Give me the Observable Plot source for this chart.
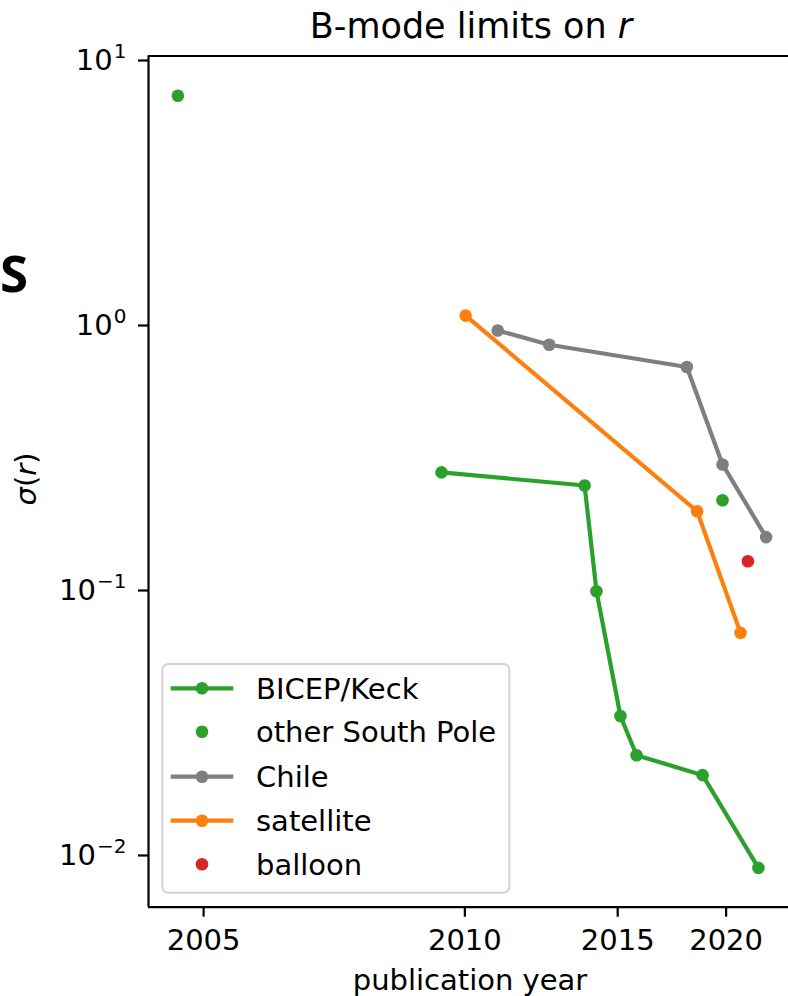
<!DOCTYPE html>
<html><head><meta charset="utf-8">
<script src="https://cdn.jsdelivr.net/npm/d3@7"></script>
<script src="https://cdn.jsdelivr.net/npm/@observablehq/plot@0.6"></script>
<style>
html,body{margin:0;padding:0;background:#fff;overflow:hidden}
#wrap{position:relative;width:788px;height:996px}
</style></head><body><div id="wrap"></div>
<script>
// ---- data (publication year, sigma(r)) ----
const bicepKeckYears = [2009.4, 2013.74, 2014.18, 2015.11, 2015.77, 2018.79, 2021.79];
const bicepKeckSigma = [0.279, 0.249, 0.0994, 0.0336, 0.0239, 0.0201, 0.00898];
const otherSPYears = [2004.67, 2019.81];
const otherSPSigma = [7.36, 0.219];
const chileYears = [2010.91, 2012.51, 2018.02, 2019.81, 2022.24];
const chileSigma = [0.958, 0.846, 0.697, 0.299, 0.159];
const satelliteYears = [2010.02, 2018.52, 2020.78];
const satelliteSigma = [1.09, 0.199, 0.0692];
const balloonYears = [2021.19];
const balloonSigma = [0.129];

const seriesNames = ["BICEP/Keck", "other South Pole", "Chile", "satellite", "balloon"];
const seriesColors = ["#2ca02c", "#2ca02c", "#7f7f7f", "#ff7f0e", "#d62728"];
const seriesHasLine = [true, false, true, true, false];

const xTickYears = [2005, 2010, 2015, 2020];
const yTickValues = [0.01, 0.1, 1, 10];
const yTickExponents = ["−2", "−1", "0", "1"];
const xDomainYears = [2004.32, 2023.6];
const yDomain = [0.00638, 10.4];

const title = "B-mode limits on ";
const titleVar = "r";
const xLabel = "publication year";

const rows = (ys, ss) => ys.map((year, i) => ({year, sigma: ss[i]}));
const series = [
  rows(bicepKeckYears, bicepKeckSigma),
  rows(otherSPYears, otherSPSigma),
  rows(chileYears, chileSigma),
  rows(satelliteYears, satelliteSigma),
  rows(balloonYears, balloonSigma)
];
const X = d => d.year - 2000;

const marks = [
  Plot.ruleY([yDomain[0]], {stroke: "#000", strokeWidth: 2.2}),
  Plot.ruleY([yDomain[1]], {stroke: "#000", strokeWidth: 2.2}),
  Plot.ruleX([xDomainYears[0] - 2000], {stroke: "#000", strokeWidth: 2.2})
];
series.forEach((data, i) => {
  if (seriesHasLine[i]) marks.push(Plot.line(data, {x: X, y: "sigma", stroke: seriesColors[i], strokeWidth: 4.2}));
  marks.push(Plot.dot(data, {x: X, y: "sigma", r: 6.3, fill: seriesColors[i], stroke: "none"}));
});

const plot = Plot.plot({
  width: 788, height: 996,
  marginLeft: 148, marginRight: 0, marginTop: 55.5, marginBottom: 89.3,
  style: {fontFamily: "DejaVu Sans", fontSize: "29px", color: "#000", background: "#fff", overflow: "visible"},
  x: {type: "log", domain: xDomainYears.map(v => v - 2000), ticks: xTickYears.map(v => v - 2000),
      tickFormat: d => String(Math.round(d + 2000)), tickSize: 10, tickPadding: 12, label: null},
  y: {type: "log", domain: yDomain, ticks: yTickValues,
      tickFormat: d => "10^" + yTickExponents[yTickValues.indexOf(d)], tickSize: 10, tickPadding: 12, label: null},
  marks
});
document.getElementById("wrap").appendChild(plot);

const svg = d3.select(plot);
svg.selectAll('[aria-label="x-axis tick"], [aria-label="y-axis tick"]').attr("stroke-width", 2.2).attr("stroke", "#000");
svg.selectAll('[aria-label="x-axis tick"] path, [aria-label="y-axis tick"] path').attr("stroke-width", 2.2);

// superscripts on y tick labels
svg.selectAll('[aria-label="y-axis tick label"] text').each(function() {
  const t = d3.select(this);
  const s = t.text();
  if (s.includes("^")) {
    const [base, exp] = s.split("^");
    t.text(null);
    t.append("tspan").text(base);
    t.append("tspan").attr("font-size", "20px").attr("dy", "-11.5").attr("dx", "1").text(exp);
  }
});

const g = svg.append("g").attr("font-family", "DejaVu Sans").attr("fill", "#000");
// title
const tt = g.append("text").attr("x", 471).attr("y", 38.3).attr("text-anchor", "middle").attr("font-size", 35);
tt.append("tspan").text(title);
tt.append("tspan").attr("font-style", "italic").text(titleVar);
// x label
g.append("text").attr("x", 470).attr("y", 990).attr("text-anchor", "middle").attr("font-size", 29).text(xLabel);
// y label
const yl = g.append("text").attr("transform", "translate(36,479) rotate(-90)").attr("text-anchor", "middle").attr("font-size", 29);
yl.append("tspan").attr("font-style", "italic").text("σ");
yl.append("tspan").text("(");
yl.append("tspan").attr("font-style", "italic").text("r");
yl.append("tspan").text(")");
// stray letter
g.append("text").attr("x", 0).attr("y", 291.7).attr("text-anchor", "start").attr("font-family", "'Noto Sans', 'Open Sans', sans-serif")
  .attr("font-style", "normal").attr("font-weight", 700).attr("font-size", 51).text("S");

// legend
const lg = svg.append("g").attr("text-anchor", "start");
lg.append("rect").attr("x", 162.3).attr("y", 664).attr("width", 347).attr("height", 228.7)
  .attr("rx", 6).attr("fill", "#fff").attr("fill-opacity", 0.8).attr("stroke", "#d4d4d4").attr("stroke-width", 2);
const rowY = [688.3, 731.7, 776.7, 820.7, 864.3];
seriesNames.forEach((name, i) => {
  const y = rowY[i];
  if (seriesHasLine[i]) lg.append("line").attr("x1", 170.7).attr("x2", 233.3).attr("y1", y).attr("y2", y)
    .attr("stroke", seriesColors[i]).attr("stroke-width", 4.2);
  lg.append("circle").attr("cx", 202).attr("cy", y).attr("r", 6.3).attr("fill", seriesColors[i]);
  lg.append("text").attr("x", 256).attr("y", y).attr("dy", "0.36em").attr("text-anchor", "start")
    .attr("font-family", "DejaVu Sans").attr("font-size", 29).attr("fill", "#000").text(name);
});
</script>
</body></html>
